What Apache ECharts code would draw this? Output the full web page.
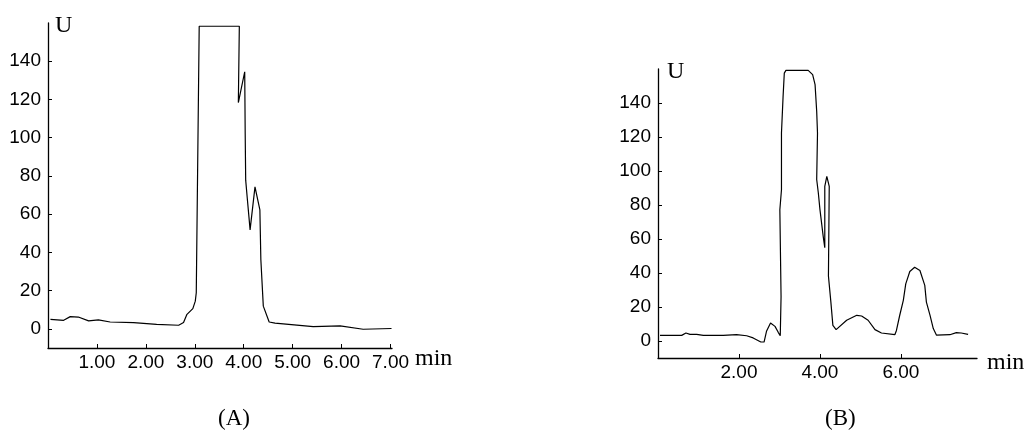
<!DOCTYPE html>
<html>
<head>
<meta charset="utf-8">
<script src="https://cdn.jsdelivr.net/npm/echarts@6/dist/echarts.min.js"></script>
<style>
html,body{margin:0;padding:0;background:#fff;}
#c{width:1026px;height:430px;}
</style>
</head>
<body>
<div id="c"></div>
<script>
// Chromatogram A
const timesA = [0.05,0.32,0.455,0.62,0.83,1.03,1.27,1.75,2.22,2.67,2.77,2.84,2.96,3.01,3.03,3.09,3.91,3.89,4.02,4.03,4.04,4.07,4.13,4.23,4.33,4.35,4.40,4.52,4.64,5.42,5.97,6.44,7.02];
const valuesA = [5.0,4.5,6.4,6.2,4.2,4.7,3.6,3.3,2.4,1.9,3.3,7.6,10.6,14.5,18.9,158.3,158.3,118.4,134.5,102,77.8,69,51.8,74.3,62.2,36.2,11.9,3.6,3.0,1.2,1.6,-0.2,0.2];
// Chromatogram B
const timesB = [0.05,0.585,0.69,0.79,0.955,1.12,1.61,1.94,2.19,2.35,2.54,2.62,2.68,2.78,2.89,2.97,3.02,3.04,3.01,3.05,3.05,3.09,3.12,3.16,3.71,3.82,3.88,3.92,3.94,3.92,3.96,4.0,4.08,4.12,4.12,4.17,4.23,4.21,4.27,4.32,4.40,4.66,4.91,5.03,5.19,5.36,5.52,5.85,5.89,5.97,6.06,6.12,6.22,6.34,6.47,6.59,6.63,6.72,6.80,6.88,7.21,7.37,7.49,7.66];
const valuesB = [3.3,3.3,4.7,3.9,3.9,3.3,3.3,3.7,3.1,1.8,-0.6,-0.6,5.7,10.6,8.6,5.1,3.1,26.2,77.2,89,122.3,143.9,157.6,159.2,159.2,156.7,150.8,135.1,122.4,95,87.2,77.4,61.7,54.9,91,96.9,91,38.2,23,9.2,6.7,12.2,15.1,14.7,12.2,6.7,4.7,3.7,6.2,15,23.9,33.6,40.9,43.4,41.5,32.7,22.9,15.1,7.3,3.4,3.7,4.9,4.7,3.9];
// Tick labels
const yTicks = [0,20,40,60,80,100,120,140];
const xTicksA = [1,2,3,4,5,6,7];
const xTicksB = [2,4,6];
const panelLabels = ['(A)','(B)'];
const yUnit = 'U';
const xUnit = 'min';

const toPairs = (t, v) => t.map((x, i) => [x, v[i]]);
const sans = 'Liberation Sans, Arial, sans-serif';
const serif = 'Liberation Serif, Times New Roman, serif';
const axisColor = '#000';

function xAxis(idx, max, ticks) {
  return {
    type: 'value', gridIndex: idx, min: 0, max: max,
    axisLine: {show: true, onZero: false, lineStyle: {color: axisColor, width: 1.3}},
    axisTick: {show: true, inside: true, length: 4, customValues: ticks, lineStyle: {color: axisColor}},
    axisLabel: {show: true, customValues: ticks, margin: 5, color: '#000', fontFamily: sans, fontSize: 19,
      formatter: v => v.toFixed(2)},
    splitLine: {show: false}
  };
}
function yAxis(idx) {
  return {
    type: 'value', gridIndex: idx, min: -10, max: 160,
    axisLine: {show: true, onZero: false, lineStyle: {color: axisColor, width: 1.3}},
    axisTick: {show: true, inside: true, length: 4, customValues: yTicks, lineStyle: {color: axisColor}},
    axisLabel: {show: true, customValues: yTicks, margin: 7, color: '#000', fontFamily: sans, fontSize: 19},
    splitLine: {show: false}
  };
}

const chart = echarts.init(document.getElementById('c'), null, {renderer: 'canvas'});
chart.setOption({
  animation: false,
  backgroundColor: '#fff',
  grid: [
    {left: 48, top: 23, width: 344, height: 325},
    {left: 658, top: 69, width: 319, height: 289}
  ],
  xAxis: [xAxis(0, 7.03, xTicksA), xAxis(1, 7.88, xTicksB)],
  yAxis: [yAxis(0), yAxis(1)],
  series: [
    {type: 'line', xAxisIndex: 0, yAxisIndex: 0, data: toPairs(timesA, valuesA), showSymbol: false,
      lineStyle: {color: '#000', width: 1.2}, z: 3},
    {type: 'line', xAxisIndex: 1, yAxisIndex: 1, data: toPairs(timesB, valuesB), showSymbol: false,
      lineStyle: {color: '#000', width: 1.2}, z: 3}
  ],
  graphic: [
    {type: 'text', left: 55, top: 14, style: {text: yUnit, font: '24px ' + serif, fill: '#000'}},
    {type: 'text', left: 667, top: 60, style: {text: yUnit, font: '24px ' + serif, fill: '#000'}},
    {type: 'text', left: 415, top: 347, style: {text: xUnit, font: '24px ' + serif, fill: '#000'}},
    {type: 'text', left: 987, top: 351, style: {text: xUnit, font: '24px ' + serif, fill: '#000'}},
    {type: 'text', left: 218, top: 407, style: {text: panelLabels[0], font: '23px ' + serif, fill: '#000'}},
    {type: 'text', left: 825, top: 407, style: {text: panelLabels[1], font: '23px ' + serif, fill: '#000'}}
  ]
});
</script>
</body>
</html>
